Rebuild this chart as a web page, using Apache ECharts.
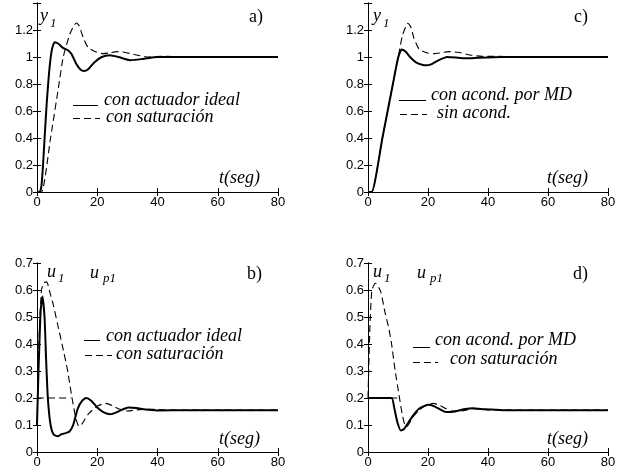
<!DOCTYPE html>
<html><head><meta charset="utf-8">
<script src="https://cdn.jsdelivr.net/npm/echarts@6/dist/echarts.min.js"></script>
<style>html,body{margin:0;padding:0;background:#fff}#c{width:623px;height:474px}</style>
</head><body><div id="c"></div>
<script>
// Panel a) y1: ideal actuator (solid) vs saturation (dashed)
const aSolidT = [0, 0.9, 1.5, 2, 2.6, 3.2, 3.7, 4.3, 5, 5.9, 7, 8.5, 10.3, 11.5, 13, 14.5, 15.6, 17, 19, 21.5, 24.2, 27, 30.9, 35, 40, 50, 60, 80];
const aSolidV = [0, 0, 0.05, 0.2, 0.43, 0.65, 0.8, 0.95, 1.06, 1.11, 1.1, 1.07, 1.05, 1.02, 0.95, 0.905, 0.896, 0.91, 0.96, 1.0, 1.013, 1.0, 0.976, 0.985, 1.0, 1.0, 1.0, 1.0];
const aDashT = [0, 1.5, 4.5, 7.3, 8.7, 10.9, 12.3, 13.1, 14, 15.4, 17, 19.8, 22, 24, 26.5, 29, 33, 37, 42, 50, 80];
const aDashV = [0, 0, 0.4, 0.8, 1.0, 1.17, 1.235, 1.252, 1.23, 1.14, 1.07, 1.035, 1.025, 1.03, 1.04, 1.035, 1.015, 1.0, 1.005, 1.0, 1.0];
// Panel c) y1: conditioned by MD (solid) vs no conditioning (dashed)
const cSolidT = [0, 1.2, 4.8, 8.3, 10, 11.2, 12.5, 14, 16, 18, 19.5, 21, 23, 26.4, 30, 33, 37, 45, 80];
const cSolidV = [0, 0, 0.4, 0.8, 0.99, 1.055, 1.04, 1.0, 0.96, 0.942, 0.938, 0.945, 0.97, 1.0, 0.995, 0.99, 0.995, 1.0, 1.0];
const cDashT = [0, 1.2, 4.8, 8.3, 10, 11.5, 13.3, 14.3, 15.3, 17, 19.8, 22, 24, 27, 30, 34, 38, 42, 50, 80];
const cDashV = [0, 0, 0.4, 0.8, 0.99, 1.16, 1.25, 1.22, 1.14, 1.06, 1.03, 1.025, 1.03, 1.04, 1.035, 1.015, 1.005, 1.005, 1.0, 1.0];
// Panel b) u1 / up1: ideal actuator (solid) vs saturation (dashed)
const bSolidT = [0, 0.5, 1.2, 1.8, 2.5, 3, 3.6, 4.5, 5.5, 6.9, 8, 9.5, 10.8, 12, 13.5, 15, 16.3, 18, 20, 22, 24.4, 27, 30.3, 33, 36, 40, 50, 80];
const bSolidV = [0.1, 0.3, 0.52, 0.576, 0.5, 0.35, 0.2, 0.1, 0.065, 0.058, 0.065, 0.07, 0.076, 0.1, 0.16, 0.19, 0.2, 0.19, 0.165, 0.148, 0.14, 0.15, 0.165, 0.163, 0.157, 0.154, 0.155, 0.155];
const bDashT = [0, 0.8, 1.5, 2.2, 3.2, 4.3, 5.3, 6.8, 8.4, 10.1, 11.4, 12.8, 13.9, 15, 17, 20, 22.8, 25, 27, 30, 34, 38, 45, 80];
const bDashV = [0.1, 0.45, 0.6, 0.625, 0.63, 0.59, 0.55, 0.475, 0.395, 0.305, 0.215, 0.13, 0.095, 0.105, 0.14, 0.17, 0.18, 0.172, 0.16, 0.152, 0.157, 0.158, 0.155, 0.155];
const bSatT = [0, 11.2];
const bSatV = [0.2, 0.2];
// Panel d) u1 / up1: conditioned by MD (solid) vs saturation (dashed)
const dSolidT = [0, 7.8, 8.8, 9.8, 10.9, 12, 13.5, 15, 17, 20, 22, 24, 26, 29, 32, 35, 39, 45, 80];
const dSolidV = [0.2, 0.2, 0.16, 0.11, 0.08, 0.085, 0.11, 0.135, 0.16, 0.175, 0.17, 0.158, 0.148, 0.15, 0.158, 0.162, 0.158, 0.155, 0.155];
const dDashT = [0, 0.6, 1.3, 2.5, 4.2, 5.7, 6.8, 7.8, 9.0, 10.5, 11.4, 12.3, 13, 15, 17, 19, 21.8, 24, 26, 28, 31, 35, 40, 50, 80];
const dDashV = [0.2, 0.45, 0.6, 0.625, 0.595, 0.515, 0.465, 0.405, 0.305, 0.2, 0.14, 0.1, 0.095, 0.13, 0.155, 0.17, 0.18, 0.172, 0.16, 0.152, 0.152, 0.16, 0.156, 0.155, 0.155];
const dSatT = [0, 10.5];
const dSatV = [0.2, 0.2];

const xTicks = {min: 0, max: 80, interval: 20};
const yTop = {min: 0, max: 1.4, interval: 0.2};
const yBot = {min: 0, max: 0.7, interval: 0.1};

const pairs = (t, v) => t.map((x, i) => [x, v[i]]);
const grids = [
  {left: 37, top: 3, width: 241, height: 189},
  {left: 368, top: 3, width: 240, height: 189},
  {left: 37, top: 263, width: 241, height: 189},
  {left: 368, top: 263, width: 240, height: 189}
];
const axisLine = {show: true, lineStyle: {color: '#000', width: 1}};
const tickIn = {show: true, inside: true, length: 4, lineStyle: {color: '#000'}};
const lbl = {color: '#000', fontFamily: 'Liberation Sans', fontSize: 13};
const xAxes = [], yAxes = [];
grids.forEach((g, gi) => {
  xAxes.push({type: 'value', gridIndex: gi, position: 'bottom', ...xTicks, axisLine, axisTick: tickIn, splitLine: {show: false},
    axisLabel: {...lbl, margin: 4}});
  xAxes.push({type: 'value', gridIndex: gi, position: 'top', ...xTicks, axisLine, axisTick: tickIn, splitLine: {show: false}, axisLabel: {show: false}});
  const ys = gi < 2 ? yTop : yBot;
  yAxes.push({type: 'value', gridIndex: gi, position: 'left', ...ys, axisLine, axisTick: tickIn, splitLine: {show: false},
    axisLabel: {...lbl, margin: 4, formatter: v => (gi < 2 && v > 1.3) ? '' : String(+v.toFixed(1))}});
  yAxes.push({type: 'value', gridIndex: gi, position: 'right', ...ys, axisLine, axisTick: tickIn, splitLine: {show: false}, axisLabel: {show: false}});
});
const ser = (gi, t, v, dashed) => ({
  type: 'line', xAxisIndex: gi * 2, yAxisIndex: gi * 2, data: pairs(t, v), showSymbol: false, smooth: 0.2, animation: false,
  lineStyle: dashed ? {color: '#000', width: 1.1, type: [7, 4]} : {color: '#000', width: 2}
});
const series = [
  ser(0, aDashT, aDashV, true), ser(0, aSolidT, aSolidV, false),
  ser(1, cDashT, cDashV, true), ser(1, cSolidT, cSolidV, false),
  ser(2, bSatT, bSatV, true), ser(2, bDashT, bDashV, true), ser(2, bSolidT, bSolidV, false),
  ser(3, dSatT, dSatV, true), ser(3, dDashT, dDashV, true), ser(3, dSolidT, dSolidV, false)
];

const serif = 'Liberation Serif';
const txt = (x, y, s, size, italic, align) => ({type: 'text', x, y, style: {text: s, fill: '#000', font: (italic ? 'italic ' : '') + size + 'px "' + serif + '"', textAlign: align || 'left', textVerticalAlign: 'middle'}});
const seg = (x1, x2, y, dashed) => ({type: 'line', shape: {x1, y1: y + 0.5, x2, y2: y + 0.5}, style: {stroke: '#000', lineWidth: 1, lineDash: dashed ? [7, 4] : null}});
const graphic = [
  // panel a
  txt(40, 16, 'y', 18, true), txt(50, 24, '1', 13, true), txt(263, 17, 'a)', 18, false, 'right'),
  seg(73, 98, 105, false), txt(104, 100, 'con actuador ideal', 18, true),
  seg(73, 100, 118, true), txt(106, 117, 'con saturación', 18, true),
  txt(260, 178, 't(seg)', 18, true, 'right'),
  // panel c
  txt(373, 16, 'y', 18, true), txt(383, 24, '1', 13, true), txt(588, 17, 'c)', 18, false, 'right'),
  seg(399, 426, 100, false), txt(431, 95, 'con acond. por MD', 18, true),
  seg(400, 427, 114, true), txt(437, 113, 'sin acond.', 18, true),
  txt(588, 178, 't(seg)', 18, true, 'right'),
  // panel b
  txt(47, 272, 'u', 18, true), txt(58, 279, '1', 13, true),
  txt(90, 273, 'u', 18, true), txt(103, 279, 'p1', 13, true),
  txt(262, 274, 'b)', 18, false, 'right'),
  seg(84, 100, 340, false), txt(106, 336, 'con actuador ideal', 18, true),
  seg(85, 112, 355, true), txt(116, 354, 'con saturación', 18, true),
  txt(260, 439, 't(seg)', 18, true, 'right'),
  // panel d
  txt(373, 272, 'u', 18, true), txt(384, 279, '1', 13, true),
  txt(417, 273, 'u', 18, true), txt(430, 279, 'p1', 13, true),
  txt(588, 274, 'd)', 18, false, 'right'),
  seg(413, 430, 347, false), txt(435, 340, 'con acond. por MD', 18, true),
  seg(413, 438, 362, true), txt(450, 359, 'con saturación', 18, true),
  txt(588, 439, 't(seg)', 18, true, 'right')
];

const chart = echarts.init(document.getElementById('c'), null, {renderer: 'canvas'});
chart.setOption({animation: false, backgroundColor: '#fff', grid: grids, xAxis: xAxes, yAxis: yAxes, series, graphic});
</script></body></html>
